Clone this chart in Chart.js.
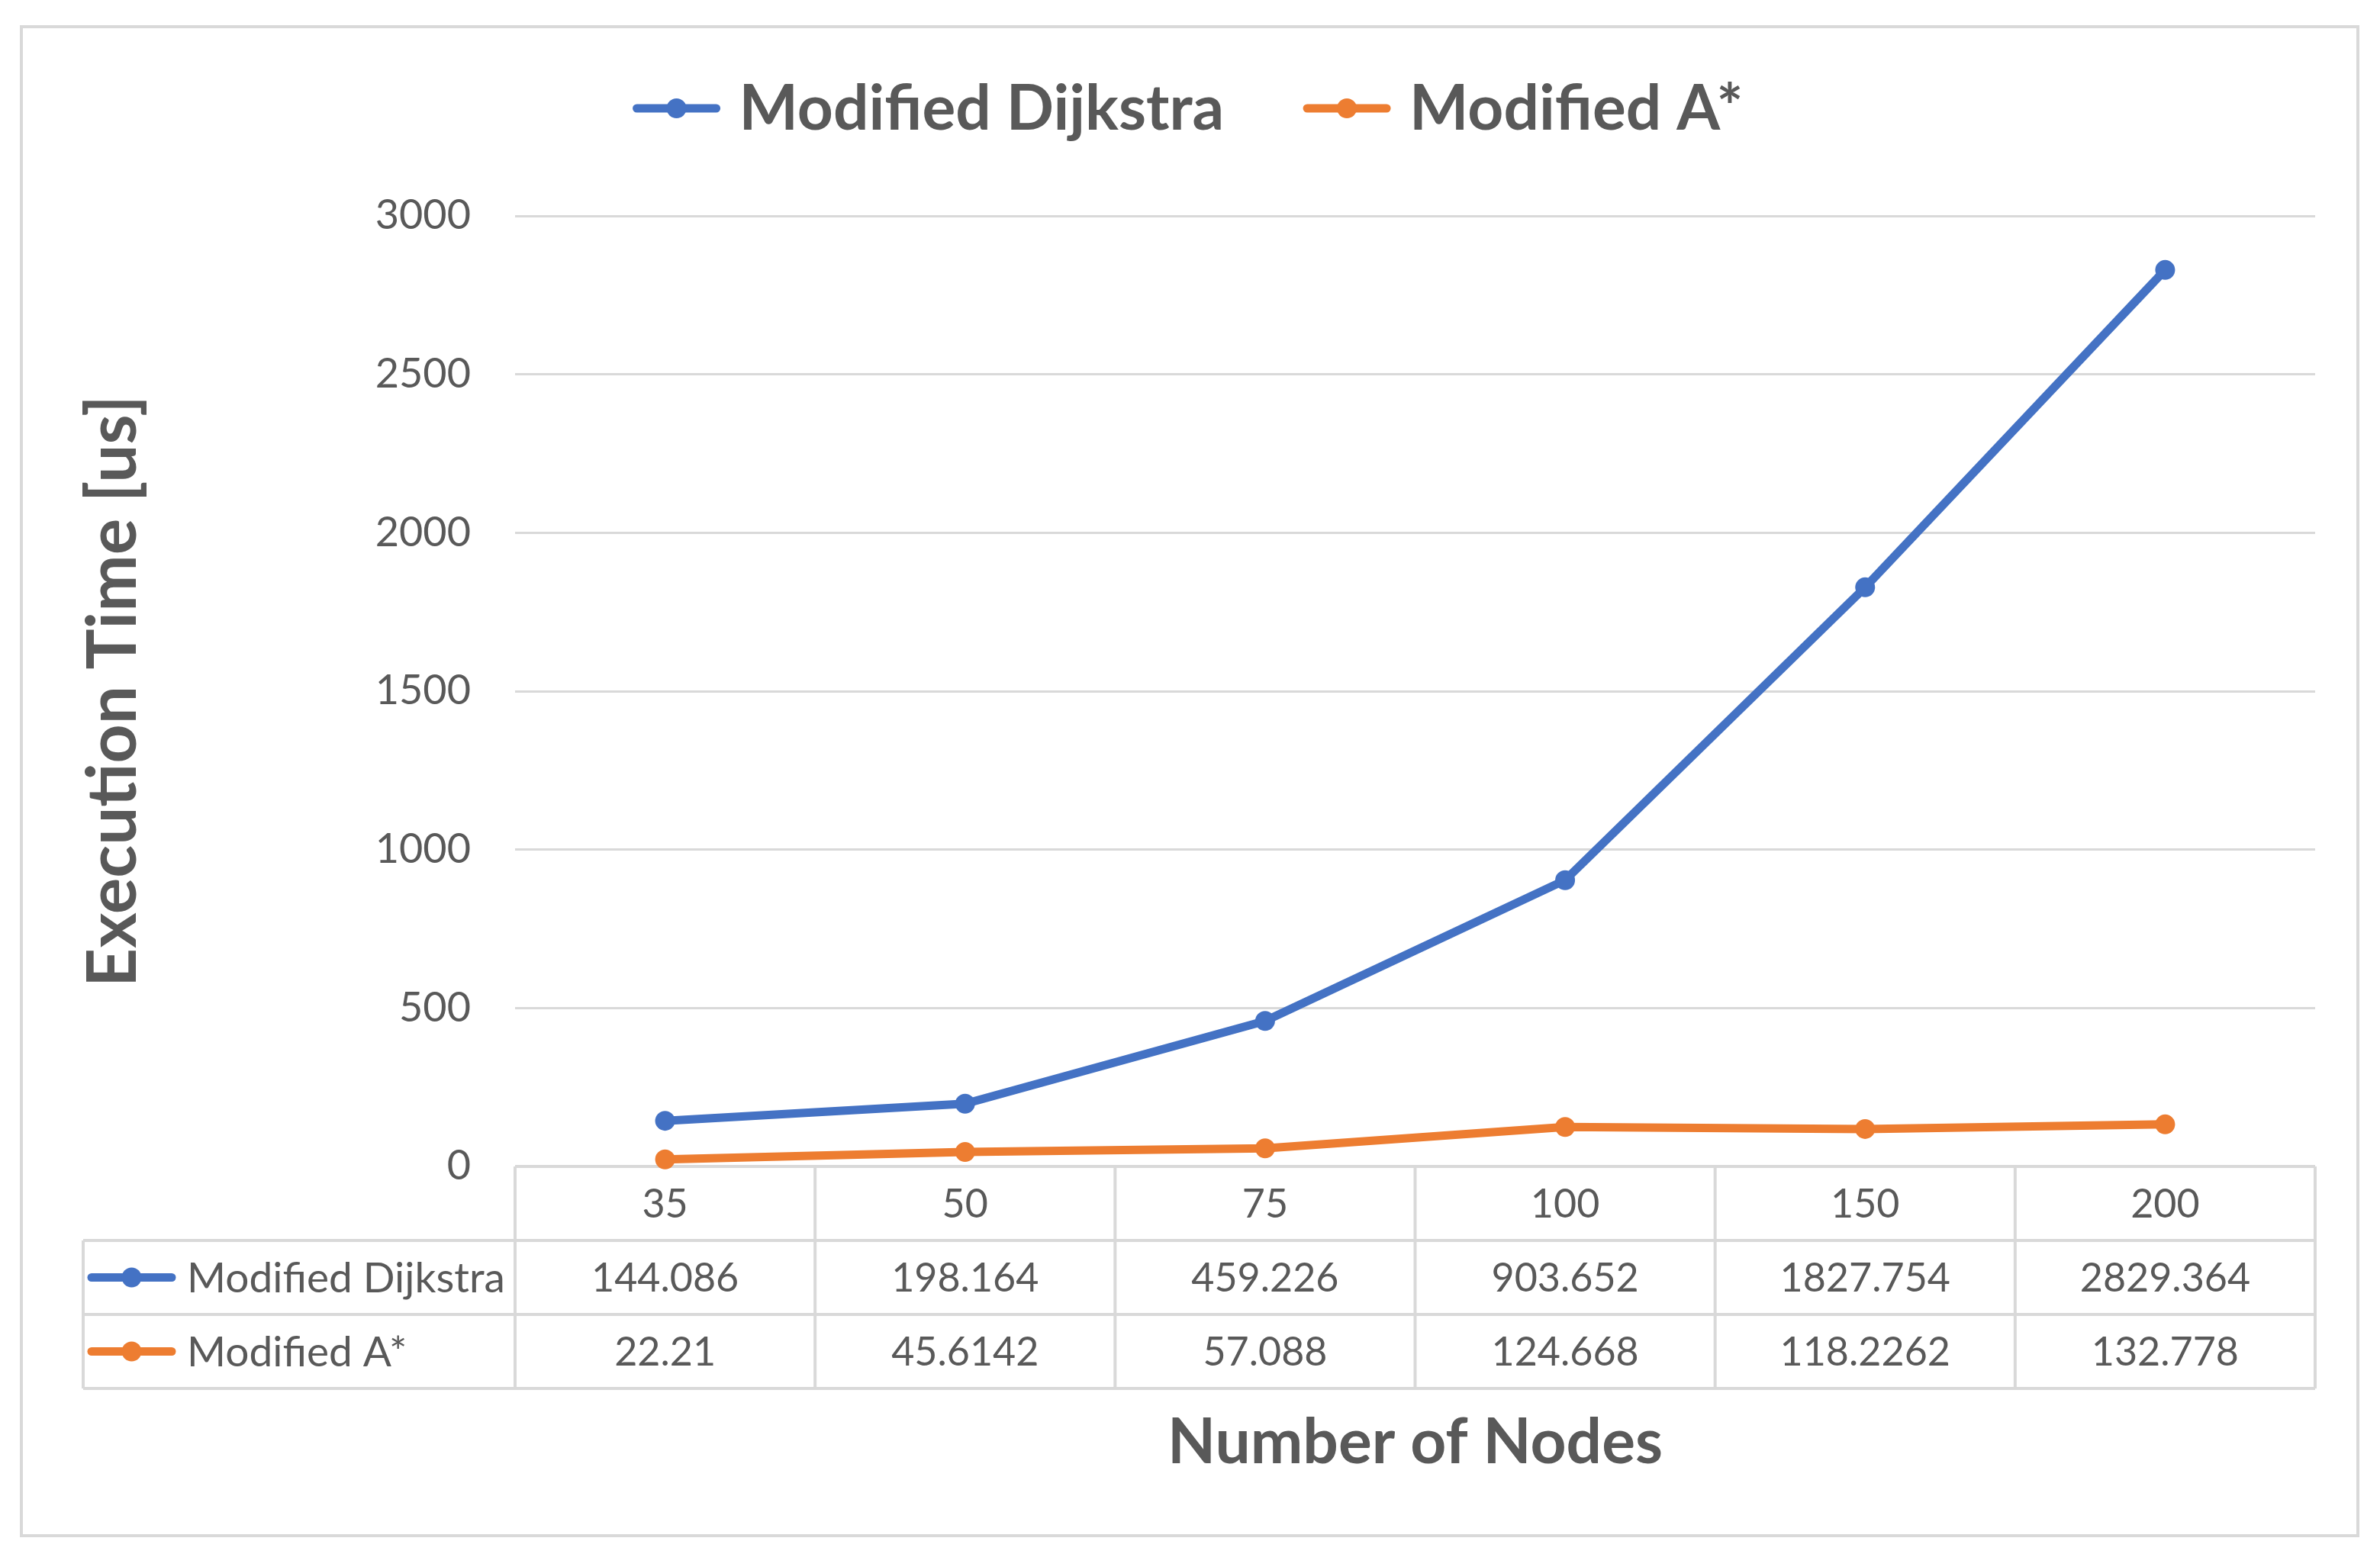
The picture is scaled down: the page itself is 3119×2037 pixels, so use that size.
<!DOCTYPE html>
<html>
<head>
<meta charset="utf-8">
<title>Execution Time vs Number of Nodes</title>
<style>
  body { margin: 0; background: #fff; }
  canvas { display: block; }
</style>
</head>
<body>
<canvas id="chart" width="3119" height="2037"></canvas>
<script src="https://cdn.jsdelivr.net/npm/chart.js"></script>
<script>
// number of nodes (categories)
const nodes = ['35', '50', '75', '100', '150', '200'];
// execution time [us]
const dijkstra = [144.086, 198.164, 459.226, 903.652, 1827.754, 2829.364];
const aStar = [22.21, 45.6142, 57.088, 124.668, 118.2262, 132.778];
const seriesNames = ['Modified Dijkstra', 'Modified A*'];
const yTicks = [0, 500, 1000, 1500, 2000, 2500, 3000];

const FONT = 'Lato';
const TEXT = '#595959';
const GRID = '#d9d9d9';
const BLUE = '#4472c4';
const ORANGE = '#ed7d31';

// line + dot key, like the excel legend
function drawKey(ctx, x, y, len, color) {
  ctx.strokeStyle = color;
  ctx.lineWidth = 11;
  ctx.lineCap = 'round';
  ctx.beginPath();
  ctx.moveTo(x, y);
  ctx.lineTo(x + len, y);
  ctx.stroke();
  ctx.fillStyle = color;
  ctx.beginPath();
  ctx.arc(x + len / 2, y, 13, 0, Math.PI * 2);
  ctx.fill();
}

const extras = {
  id: 'extras',
  beforeDraw(chart) {
    const ctx = chart.ctx;
    ctx.save();
    ctx.fillStyle = '#fff';
    ctx.fillRect(0, 0, chart.width, chart.height);
    ctx.strokeStyle = GRID;
    ctx.lineWidth = 4;
    ctx.strokeRect(28, 35, 3062, 1978);
    ctx.restore();
  },
  beforeDatasetsDraw(chart) {
    const { ctx, chartArea: a, scales: { x } } = chart;
    const ds = chart.data.datasets;
    ctx.save();

    // legend on top
    ctx.font = 'bold 82px ' + FONT;
    ctx.textBaseline = 'middle';
    ctx.textAlign = 'left';
    const keyLen = 104, keyGap = 30, itemGap = 109;
    const widths = ds.map(d => ctx.measureText(d.label).width);
    let total = 0;
    widths.forEach((w, i) => { total += keyLen + keyGap + w + (i ? itemGap : 0); });
    let lx = chart.width / 2 - total / 2;
    ds.forEach((d, i) => {
      drawKey(ctx, lx, 142, keyLen, d.borderColor);
      ctx.fillStyle = TEXT;
      ctx.font = 'bold 82px ' + FONT;
      ctx.fillText(d.label, lx + keyLen + keyGap, 144);
      lx += keyLen + keyGap + widths[i] + itemGap;
    });

    // data table under the plot
    const step = x.getPixelForValue(1) - x.getPixelForValue(0);
    const rowH = 97;
    const top = a.bottom;
    const headLeft = 109;
    ctx.strokeStyle = GRID;
    ctx.lineWidth = 4;
    ctx.lineCap = 'butt';
    ctx.beginPath();
    ctx.moveTo(a.left, top); ctx.lineTo(a.right, top);
    for (let r = 1; r <= 3; r++) {
      ctx.moveTo(headLeft, top + r * rowH); ctx.lineTo(a.right, top + r * rowH);
    }
    ctx.moveTo(headLeft, top + rowH); ctx.lineTo(headLeft, top + 3 * rowH);
    for (let i = 0; i <= nodes.length; i++) {
      const cx = a.left + i * step;
      ctx.moveTo(cx, top); ctx.lineTo(cx, top + 3 * rowH);
    }
    ctx.stroke();

    ctx.font = '52px ' + FONT;
    ctx.fillStyle = TEXT;
    ctx.textAlign = 'center';
    nodes.forEach((n, i) => {
      ctx.fillText(n, x.getPixelForValue(i), top + rowH / 2 + 2);
    });
    ds.forEach((d, r) => {
      const cy = top + (r + 1.5) * rowH;
      drawKey(ctx, 120, cy, 105, d.borderColor);
      ctx.fillStyle = TEXT;
      ctx.textAlign = 'left';
      ctx.font = '55px ' + FONT;
      ctx.fillText(d.label, 245, cy + 2);
      ctx.textAlign = 'center';
      ctx.font = '52px ' + FONT;
      d.data.forEach((v, i) => {
        ctx.fillText(String(v), x.getPixelForValue(i), cy + 2);
      });
    });

    // x axis title
    ctx.font = 'bold 82px ' + FONT;
    ctx.textAlign = 'center';
    ctx.fillText('Number of Nodes', (a.left + a.right) / 2, 1892);
    ctx.restore();
  }
};

const ctx = document.getElementById('chart').getContext('2d');
new Chart(ctx, {
  type: 'line',
  data: {
    labels: nodes,
    datasets: [
      { label: seriesNames[0], data: dijkstra, borderColor: BLUE, backgroundColor: BLUE },
      { label: seriesNames[1], data: aStar, borderColor: ORANGE, backgroundColor: ORANGE }
    ].map(d => Object.assign(d, {
      borderWidth: 11,
      pointRadius: 13,
      pointBorderWidth: 0,
      pointBackgroundColor: d.borderColor,
      tension: 0,
      clip: false
    }))
  },
  options: {
    responsive: false,
    animation: false,
    devicePixelRatio: 1,
    layout: { padding: { top: 283, right: 85, bottom: 508, left: 0 } },
    plugins: {
      legend: { display: false },
      tooltip: { enabled: false }
    },
    scales: {
      x: {
        type: 'category',
        offset: true,
        display: false
      },
      y: {
        min: yTicks[0],
        max: yTicks[yTicks.length - 1],
        afterFit(scale) { scale.width = 675; },
        ticks: {
          stepSize: yTicks[1] - yTicks[0],
          padding: 58,
          color: TEXT,
          font: { family: FONT, size: 54 },
          callback: v => String(v)
        },
        grid: { color: GRID, lineWidth: 3, drawTicks: false },
        border: { display: false },
        title: {
          display: true,
          text: 'Execution Time [us]',
          color: TEXT,
          font: { family: FONT, size: 89, weight: 'bold' },
          padding: { top: 96, bottom: 0 }
        }
      }
    }
  },
  plugins: [extras]
});
</script>
</body>
</html>
